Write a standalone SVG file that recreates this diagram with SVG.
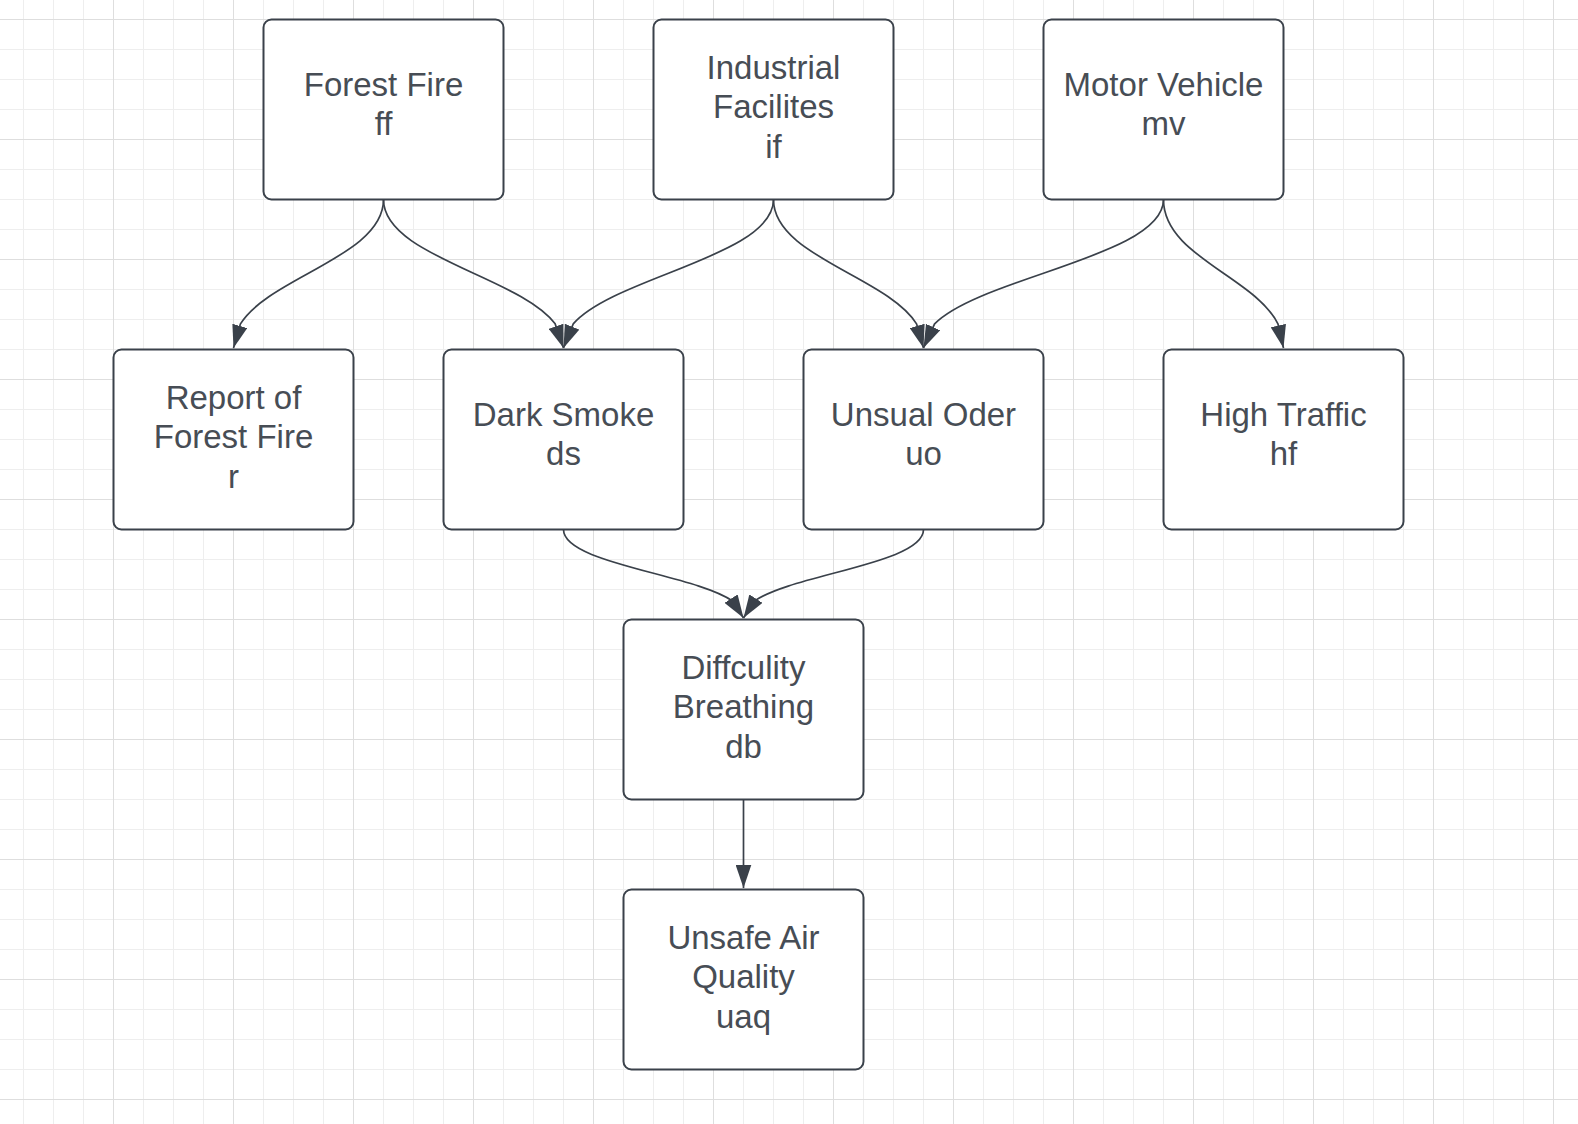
<svg xmlns="http://www.w3.org/2000/svg" width="1578" height="1124" viewBox="0 0 1578 1124">
  <style>
    .box { fill: #ffffff; stroke: #3a414a; stroke-width: 2; }
    .lbl { font-family: "Liberation Sans", Arial, sans-serif; font-size: 33px; fill: #474d55; text-anchor: middle; }
    .con { fill: none; stroke: #3a414a; stroke-width: 1.7; marker-end: url(#ah); }
  </style>
  <defs>
    <pattern id="minor" patternUnits="userSpaceOnUse" x="23" y="19" width="30" height="30">
      <path d="M0.5,0V30M0,0.5H30" stroke="#eeeeee" stroke-width="1" fill="none"/>
    </pattern>
    <pattern id="major" patternUnits="userSpaceOnUse" x="113" y="19" width="120" height="120">
      <path d="M0.5,0V120M0,0.5H120" stroke="#dedede" stroke-width="1" fill="none"/>
    </pattern>
    <marker id="ah" markerUnits="userSpaceOnUse" viewBox="0 0 23 16" refX="23" refY="8" markerWidth="23" markerHeight="16" orient="auto">
      <path d="M0,0.2 L23,8 L0,15.8 Z" fill="#3a414a"/>
    </marker>
  </defs>

  <g id="background">
    <rect x="0" y="0" width="1578" height="1124" fill="#ffffff"/>
    <rect x="0" y="0" width="1578" height="1124" fill="url(#minor)"/>
    <rect x="0" y="0" width="1578" height="1124" fill="url(#major)"/>
  </g>

  <g id="connectors">
    <path class="con" d="M383.5,199.5 C383.5,256.05 269.97,276.65 240.45,323.85 L233.5,348"/>
    <path class="con" d="M383.5,199.5 C383.5,256.05 519.74,276.65 555.16,323.85 L563.5,348"/>
    <path class="con" d="M773.5,199.5 C773.5,256.05 614.55,276.65 573.22,323.85 L563.5,348"/>
    <path class="con" d="M773.5,199.5 C773.5,256.05 887.04,276.65 916.55,323.85 L923.5,348"/>
    <path class="con" d="M1163.5,199.5 C1163.5,256.05 981.84,276.65 934.61,323.85 L923.5,348"/>
    <path class="con" d="M1163.5,199.5 C1163.5,256.05 1254.33,276.65 1277.94,323.85 L1283.5,348"/>
    <path class="con" d="M563.5,529.5 C563.5,563.5 693.55,574.02 732.57,600.97 L743.5,618"/>
    <path class="con" d="M923.5,529.5 C923.5,563.5 793.45,574.02 754.43,600.97 L743.5,618"/>
    <path class="con" d="M743.5,799.5 L743.5,888"/>
  </g>

  <g id="ff">
    <rect class="box" x="263.5" y="19.5" width="240" height="180" rx="8"/>
    <text class="lbl"><tspan x="383.5" y="95.5">Forest Fire</tspan><tspan x="383.5" y="135">ff</tspan></text>
  </g>
  <g id="if">
    <rect class="box" x="653.5" y="19.5" width="240" height="180" rx="8"/>
    <text class="lbl"><tspan x="773.5" y="78.5">Industrial</tspan><tspan x="773.5" y="118">Facilites</tspan><tspan x="773.5" y="157.5">if</tspan></text>
  </g>
  <g id="mv">
    <rect class="box" x="1043.5" y="19.5" width="240" height="180" rx="8"/>
    <text class="lbl"><tspan x="1163.5" y="95.5">Motor Vehicle</tspan><tspan x="1163.5" y="135">mv</tspan></text>
  </g>
  <g id="r">
    <rect class="box" x="113.5" y="349.5" width="240" height="180" rx="8"/>
    <text class="lbl"><tspan x="233.5" y="408.5">Report of</tspan><tspan x="233.5" y="448">Forest Fire</tspan><tspan x="233.5" y="487.5">r</tspan></text>
  </g>
  <g id="ds">
    <rect class="box" x="443.5" y="349.5" width="240" height="180" rx="8"/>
    <text class="lbl"><tspan x="563.5" y="425.5">Dark Smoke</tspan><tspan x="563.5" y="465">ds</tspan></text>
  </g>
  <g id="uo">
    <rect class="box" x="803.5" y="349.5" width="240" height="180" rx="8"/>
    <text class="lbl"><tspan x="923.5" y="425.5">Unsual Oder</tspan><tspan x="923.5" y="465">uo</tspan></text>
  </g>
  <g id="hf">
    <rect class="box" x="1163.5" y="349.5" width="240" height="180" rx="8"/>
    <text class="lbl"><tspan x="1283.5" y="425.5">High Traffic</tspan><tspan x="1283.5" y="465">hf</tspan></text>
  </g>
  <g id="db">
    <rect class="box" x="623.5" y="619.5" width="240" height="180" rx="8"/>
    <text class="lbl"><tspan x="743.5" y="678.5">Diffculity</tspan><tspan x="743.5" y="718">Breathing</tspan><tspan x="743.5" y="757.5">db</tspan></text>
  </g>
  <g id="uaq">
    <rect class="box" x="623.5" y="889.5" width="240" height="180" rx="8"/>
    <text class="lbl"><tspan x="743.5" y="948.5">Unsafe Air</tspan><tspan x="743.5" y="988">Quality</tspan><tspan x="743.5" y="1027.5">uaq</tspan></text>
  </g>
</svg>
